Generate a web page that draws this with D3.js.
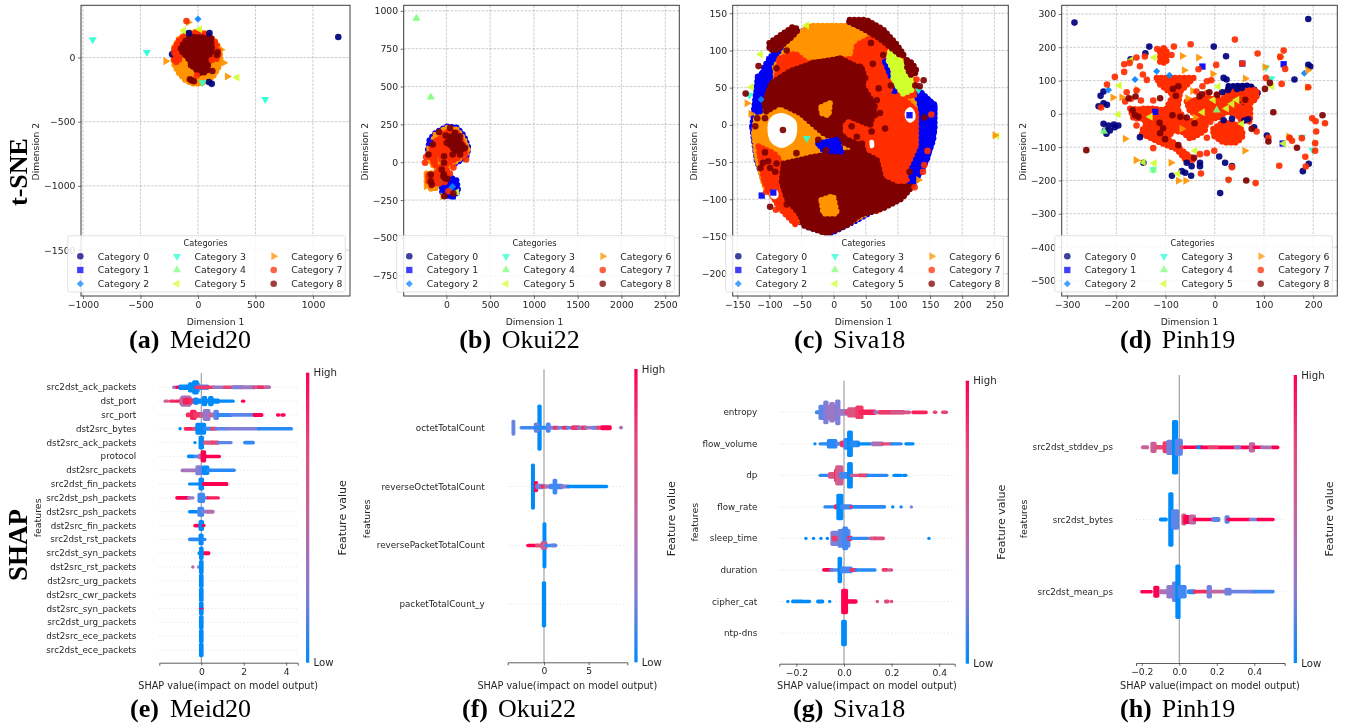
<!DOCTYPE html>
<html><head><meta charset="utf-8">
<script src="https://cdn.jsdelivr.net/npm/d3@7"></script>
<style>
html,body{margin:0;padding:0;background:#fff;overflow:hidden}
svg{display:block;filter:blur(0.5px)}
text{font-family:"DejaVu Sans",sans-serif;fill:#262626}
.cap,.side{font-family:"Liberation Serif",serif;fill:#000}
</style></head><body><svg id="c" width="1348" height="727"></svg>
<script>
// ---------- colours and labels
const categoryColors=["#00007f","#0000f5","#0a84ff","#2bffd1","#7dff7a","#d1ff2b","#ff9400","#ff2d00","#7f0000"];
const categoryNames=["Category 0","Category 1","Category 2","Category 3","Category 4","Category 5","Category 6","Category 7","Category 8"];
const xLabel="Dimension 1", yLabel="Dimension 2", legendTitle="Categories";
const shapXLabel="SHAP value(impact on model output)";

// ---------- t-SNE: filled regions [category, outline] and single points [category, x, y]
const meidRegions=[
 [6,[[-216,10],[-205,80],[-165,145],[-100,185],[-10,202],[80,185],[145,130],[185,70],[196,0],[175,-85],[125,-155],[50,-195],[-30,-205],[-105,-180],[-170,-115],[-208,-50]]],
 [7,[[-205,70],[-165,135],[-100,178],[-10,192],[80,178],[145,125],[178,70],[178,5],[150,-20],[115,5],[60,20],[-80,50],[-145,30],[-190,-30],[-208,-25]]],
 [8,[[-150,70],[-120,120],[-65,162],[20,158],[115,152],[122,60],[100,10],[80,-110],[20,-122],[-35,-80],[-90,0],[-130,35]]]
];
const meidPoints=[[0,1220,160],[0,120,-205],[0,-225,25],[0,100,190],[0,95,-190],[0,-80,190],
 [2,0,300],[3,-915,140],[3,-445,40],[3,585,-325],[3,40,-195],
 [5,-125,210],[5,15,220],[5,340,-155],
 [6,-280,-28],[6,-85,275],[6,225,-40],[6,255,-147],[6,200,60],
 [7,-100,285],[7,-165,-15],[7,-190,20],[7,-190,-35],[7,-10,-140],[7,175,50],[7,120,-20],[7,-205,40],
 [8,-70,-170],[8,-55,-178],[8,-35,-185],[8,125,-105],[8,170,40],[8,-60,-60],[8,-130,50],[8,60,-100],[8,165,20]];

const okuiRegions=[
 [1,[[-210,84],[-190,150],[-120,195],[4,235],[118,228],[200,175],[250,95],[235,45],[118,-4],[42,-15],[-72,-26],[-140,29]]],
 [1,[[-60,-126],[4,-90],[115,-120],[135,-195],[75,-225],[-45,-215]]],
 [6,[[-195,100],[-115,185],[4,228],[118,215],[195,155],[250,70],[118,10],[42,-20],[-72,-60],[-150,-20],[-200,30]]],
 [6,[[-225,-75],[-95,-70],[-78,-115],[-125,-170],[-188,-175],[-225,-126]]],
 [7,[[-170,100],[-105,165],[4,200],[118,195],[180,135],[225,62],[118,25],[42,0],[-72,-50],[-130,-14],[-180,35]]],
 [7,[[-205,-85],[-112,-82],[-95,-115],[-140,-145],[-185,-155],[-210,-125]]],
 [7,[[-60,-30],[-30,-20],[10,-60],[5,-100],[-50,-110],[-75,-70]]],
 [8,[[40,170],[110,185],[165,125],[210,85],[130,75],[65,95],[30,125]]]
];
const okuiPoints=[[4,-343,950],[4,-179,430],
 [1,-34,-192],[1,72,-225],[1,99,-126],[1,-187,128],[2,42,-181],[2,-72,-137],[2,70,-160],[5,118,-198],
 [6,-130,176],[6,-42,-225],[6,-232,-159],[6,-72,7],
 [7,-244,-4],[7,-232,35],[7,225,18],[7,80,-35],[7,-84,-141],[7,-141,-9],[7,23,-192],[7,-110,-70],[7,-53,18],[7,-20,-130],[7,-95,-90],[7,40,-75],
 [8,-84,200],[8,-8,176],[8,-156,117],[8,-206,51],[8,99,194],[8,42,227],[8,4,128],[8,61,139],[8,156,172],[8,137,128],[8,99,84],[8,72,51],[8,-27,40],[8,156,51],[8,213,95],[8,-27,-4],[8,-53,-48],[8,-34,-93],[8,11,-110],[8,-179,-82],[8,-179,-126],[8,-168,-148],[8,80,-207],[8,-23,-225],[8,99,132],[8,42,150],[8,175,106],[8,-30,-80],[8,-20,-105]];

const sivaRegions=[
 [1,[[-127,-2],[-120,38],[-108,78],[-87,105],[-58,125],[20,132],[67,125],[98,100],[128,51],[157,25],[155,-20],[140,-56],[122,-83],[93,-100],[36,-128],[-6,-146],[-42,-137],[-82,-110],[-108,-77],[-120,-47]]],
 [6,[[-124,-11],[-119,20],[-108,56],[-82,90],[-63,117],[-37,133],[18,133],[57,117],[83,92],[93,65],[83,38],[124,33],[134,-11],[124,-47],[103,-83],[72,-108],[20,-134],[-37,-138],[-76,-117],[-108,-81],[-120,-43]]],
 [7,[[-84,89],[-60,96],[-42,83],[33,89],[36,107],[67,121],[85,101],[93,60],[83,38],[106,38],[135,13],[130,-29],[117,-70],[93,-94],[67,-117],[51,-83],[51,-43],[20,-20],[10,33],[-32,60],[-84,42],[-99,33],[-89,65]]],
 [7,[[-117,-29],[-94,-38],[-84,-47],[-89,-74],[-63,-92],[-58,-135],[-84,-112],[-108,-77]]],
 [7,[[103,98],[114,78],[126,55],[126,40],[106,38],[95,70]]],
 [1,[[-118,65],[-99,76],[-99,56],[-113,33],[-115,16],[-124,20]]],
 [1,[[80,85],[93,87],[100,72],[90,63]]],
 [1,[[134,43],[157,27],[157,-7],[145,-47],[124,-76],[119,-65],[137,-29],[137,16]]],
 [5,[[88,98],[103,87],[121,65],[121,47],[108,42],[93,60],[93,74],[85,87]]],
 [8,[[-108,29],[-97,56],[-68,72],[-32,83],[10,89],[46,74],[46,51],[64,25],[57,0],[20,13],[10,2],[10,-16],[46,-29],[46,-36],[-16,-11],[-52,16],[-84,29],[-105,18]]],
 [8,[[-78,-52],[-32,-43],[5,-38],[41,-36],[67,-47],[75,-74],[98,-83],[122,-83],[106,-99],[77,-112],[41,-121],[20,-135],[-11,-146],[-47,-135],[-52,-121],[-73,-99],[-81,-76]]],
 [8,[[25,141],[51,141],[77,128],[98,108],[109,94],[103,94],[72,116],[41,132],[23,139]]],
 [8,[[-100,110],[-63,132],[-55,128],[-68,116],[-89,101],[-100,101]]],
 [8,[[114,87],[122,83],[130,71],[119,67],[114,78]]],
 [6,[[-19,-101],[-1,-96],[5,-119],[-16,-119]]],
 [6,[[-19,24],[-6,29],[-8,13],[-19,16]]],
 [1,[[-24,-25],[5,-20],[12,-36],[-16,-34]]]
];
const sivaHoles=[
 [[-103,-7],[-99,9],[-81,16],[-60,7],[-57,-9],[-63,-23],[-81,-31],[-98,-23]],
 [[119,24],[126,18],[127,8],[119,3],[112,8],[111,18]],
 [[-98,-88],[-88,-88],[-86,-96],[-92,-100],[-99,-96]],
 [[56,-21],[62,-21],[63,-29],[57,-31]]
];
const sivaPoints=[[1,-100,88],[1,-112,-95],[1,-94,-91],[1,118,13],[2,-113,34],
 [3,-131,40],[3,-42,-18],[3,132,47],
 [5,-114,95],[5,-128,51],[5,254,-15],[5,-42,134],
 [6,-135,29],[6,-129,15],[6,251,-14],[6,132,-74],
 [7,129,61],[7,152,14],[7,146,-35],[7,-105,-90],[7,-90,-114],[7,139,-63],[7,141,-54],[7,126,-84],
 [8,-137,42],[8,-117,79],[8,-98,107],[8,-99,-110],[8,58,110],[8,61,82],[8,77,94],[8,70,49],[8,89,53],[8,127,53],[8,141,10],[8,118,-63],[8,-107,-37],[8,-114,-58],[8,-110,-51],[8,-102,-49],[8,-99,-58],[8,-89,-52],[8,-91,-63],[8,-71,-52],[8,-58,-38],[8,-58,-52],[8,-73,-60],[8,-55,-114],[8,-73,-107],[8,-79,-7],[8,-24,-20],[8,-12,-34],[8,18,11],[8,28,-2],[8,15,-16],[8,36,-16],[8,44,-25],[8,59,-9],[8,80,-5],[8,72,16],[8,-32,83],[8,-21,84],[8,-8,82],[8,-107,9],[8,-119,9],[8,-122,-2],[8,-104,24],[8,-89,76],[8,-73,100],[8,140,60],[8,134,52],[8,-68,63],[8,-60,72],[8,-47,72],[8,-84,49],[8,-94,56],[8,41,78],[8,49,63],[8,67,33],[8,64,13],[8,10,89],[8,20,83]];

const pinhRegions=[
 [0,[[28,83],[72,85],[88,62],[60,25],[28,55]]],
 [7,[[-118,108],[-43,108],[-70,67],[-77,6],[-98,16],[-84,57],[-111,88]]],
 [7,[[-118,11],[-77,16],[-57,-24],[-16,-14],[-20,-50],[-37,-65],[-50,-75],[-64,-55],[-84,-50],[-98,-75],[-84,-86],[-70,-106],[-43,-137],[-57,-142],[-77,-106],[-111,-86],[-148,-60],[-145,-40],[-118,-24]]],
 [7,[[-3,-45],[18,-24],[51,-35],[58,-65],[45,-86],[18,-86],[-3,-65]]],
 [7,[[24,67],[85,72],[85,47],[68,27],[51,47],[24,47]]],
 [7,[[45,21],[72,16],[72,-24],[48,-14]]],
 [7,[[-172,16],[-138,11],[-145,-14],[-165,-14]]],
 [7,[[-145,16],[-118,16],[-118,-20],[-145,-23]]],
 [7,[[-57,37],[-9,47],[24,37],[45,37],[58,-4],[24,6],[4,-14],[-16,-9],[-50,6]]],
 [7,[[-111,190],[-98,195],[-98,154],[-111,154]]]
];
const pinhPoints=[[0,-285,274],[0,190,285],[0,-133,202],[0,-2,202],[0,23,173],[0,9,-128],[0,11,-238],[0,-87,-186],[0,-48,-186],[0,191,-150],[0,35,-157],[0,18,108],[0,24,103],[0,190,147],[0,194,142],[0,-226,32],[0,-226,-30],[0,-216,-35],[0,-205,-32],[0,-196,-35],[0,-213,-50],[0,-220,-60],[0,-223,-50],[0,-203,-40],[0,-236,23],[0,-219,27],[0,-226,67],[0,-152,-70],[0,-145,-147],[0,-60,-177],[0,-57,-147],[0,-47,-157],[0,-30,-147],[0,-30,-157],[0,-67,-172],[0,27,72],[0,45,75],[0,18,-19],[0,106,-65],[0,68,-16],[0,-171,164],[0,-141,182],[0,162,103],[0,179,-172],[0,21,-147],[0,-232,54],[0,30,80],[0,55,78],[0,15,65],[0,35,-15],[0,60,-20],[0,80,-40],
 [1,-25,142],[1,56,151],[1,140,149],[1,138,-89],[1,-121,6],
 [2,-162,103],[2,-118,128],[2,-92,116],[2,-216,72],[2,182,122],
 [3,104,139],[3,115,106],[3,-125,-167],[3,177,-70],[3,28,-198],[3,199,-109],
 [4,-125,-169],[4,4,11],[4,-225,-53],
 [5,-123,169],[5,-194,85],[5,-196,-2],[5,7,82],[5,-145,-145],[5,-123,-148],[5,-75,-180],[5,-170,162],[5,-40,-111],[5,55,-30],[5,-3,42],[5,45,42],[5,24,16],[5,140,-89],[5,-131,-9],[5,116,82],[5,35,30],[5,-25,5],
 [6,-207,49],[6,-182,-75],[6,-160,-139],[6,-89,-147],[6,-59,-201],[6,-74,-201],[6,61,-111],[6,62,106],[6,102,141],[6,150,-68],[6,-62,131],[6,-4,120],[6,-45,69],[6,-55,47],[6,-158,72],[6,133,171],[6,188,80],[6,189,131],[6,-189,50],[6,-33,169],[6,-66,174],[6,-67,-45],[6,-40,-11],
 [7,-117,195],[7,-104,197],[7,-103,164],[7,-83,202],[7,-49,209],[7,41,223],[7,87,181],[7,3,147],[7,-88,177],[7,-142,172],[7,-159,169],[7,-173,153],[7,-184,149],[7,-184,126],[7,-203,111],[7,-219,88],[7,-231,19],[7,-152,143],[7,-146,118],[7,-138,102],[7,-179,65],[7,-159,70],[7,-182,37],[7,-159,-35],[7,-125,-103],[7,-28,-179],[7,-16,-72],[7,-16,-118],[7,-30,-121],[7,-1,-111],[7,35,-160],[7,28,-198],[7,131,-156],[7,83,-208],[7,185,-158],[7,184,-129],[7,204,-111],[7,204,-88],[7,206,-53],[7,205,-22],[7,198,-13],[7,224,-28],[7,140,190],[7,133,171],[7,143,135],[7,136,90],[7,190,80],[7,109,-72],[7,152,-72],[7,157,-81],[7,177,-73],[7,56,151],[7,-33,134],[7,-16,98],[7,-7,101],[7,-25,83],[7,-16,62],[7,4,57],[7,-37,67],[7,-9,27],[7,18,47],[7,-9,-24],[7,11,-45],[7,85,-53],[7,104,108],[7,-170,45],[7,-150,40],[7,-125,40],[7,-40,40],[7,-30,25],
 [8,-261,-109],[8,219,-4],[8,167,-102],[8,64,-200],[8,119,5],[8,75,-45],[8,62,42],[8,112,93],[8,102,75],[8,5,57],[8,-11,65],[8,-26,59],[8,-31,52],[8,-74,83],[8,-85,75],[8,-79,54],[8,-111,47],[8,-161,52],[8,-175,47],[8,-167,11],[8,-162,-4],[8,-155,-9],[8,-86,-4],[8,-70,-9],[8,-57,-11],[8,-112,-27],[8,-105,-43],[8,-111,-58],[8,-101,-76],[8,-74,-94],[8,-42,-132],[8,-41,-28],[8,109,-83]];

// ---------- t-SNE tick labels
const ticksMeidX=[-1000,-500,0,500,1000], ticksMeidY=[-1500,-1000,-500,0];
const ticksOkuiX=[0,500,1000,1500,2000,2500], ticksOkuiY=[-750,-500,-250,0,250,500,750,1000];
const ticksSivaX=[-150,-100,-50,0,50,100,150,200,250], ticksSivaY=[-200,-150,-100,-50,0,50,100,150];
const ticksPinhX=[-300,-200,-100,0,100,200], ticksPinhY=[-500,-400,-300,-200,-100,0,100,200,300];

// ---------- SHAP: per feature, runs [from, to, featureValue(0 low..1 high), stacked points]
const meidFeatures=["src2dst_ack_packets","dst_port","src_port","dst2src_bytes","dst2src_ack_packets","protocol","dst2src_packets","src2dst_fin_packets","src2dst_psh_packets","dst2src_psh_packets","dst2src_fin_packets","src2dst_rst_packets","src2dst_syn_packets","dst2src_rst_packets","dst2src_urg_packets","dst2src_cwr_packets","dst2src_syn_packets","src2dst_urg_packets","dst2src_ece_packets","src2dst_ece_packets"];
const meidRuns=[
 [[-1.3,-1.25,.35,1],[-1.15,-1.05,1,1],[-1,-.55,0,1.6],[-.55,-.15,0,3],[-.35,-.2,0,4.2],[-.15,.3,.1,1.6],[-.25,.6,.85,1],[.6,1.1,.3,1],[1.1,1.9,.8,1],[1.5,1.9,.2,1.2],[1.9,2.5,.3,1.2],[2.5,2.7,.85,1],[2.6,3.2,.5,1],[2.7,2.9,.9,1],[3.05,3.2,.45,1]],
 [[-1.7,-1.6,.6,1],[-1.45,-1.3,.9,1],[-1.2,-.9,.95,1],[-.95,-.5,.6,2.5],[-.9,-.55,.4,3.3],[-.8,-.6,.95,2],[-.5,-.25,.9,1.5],[-.3,0,.1,1.5],[-.3,-.2,0,2.2],[-.1,.5,0,1.3],[.1,.2,0,3],[.4,.5,0,3],[.5,1.5,0,1],[.5,.8,0,1.5],[1.95,2,1,1]],
 [[-.65,-.45,.9,1.4],[-.45,-.3,.95,3],[-.3,0,.85,1.7],[0,.15,.6,1.6],[.15,.35,.25,3.5],[.35,.65,.5,1.5],[.65,.75,.1,3],[.75,1.4,.03,1.2],[1.4,2.5,.1,1.1],[2.5,2.85,1,1.2],[3.6,3.65,1,1],[3.8,3.9,1,1]],
 [[-1,-1,0,1],[-.75,-.35,.95,1.1],[-.35,-.2,.7,1.2],[-.2,.15,0,3.5],[.15,.5,.03,1.2],[.5,.7,.8,1.2],[.7,1.2,.1,1],[1.2,2.7,.2,1],[2.7,4.25,.02,1]],
 [[-.3,-.3,0,1],[-.05,.05,0,4],[.15,.5,.65,1.3],[.5,.8,.8,1.2],[.8,1.4,.1,1],[2.05,2.45,.03,1.1]],
 [[-.6,-.35,0,1.1],[-.3,-.1,.05,1],[-.1,.1,.4,1.6],[.05,.15,1,3.6],[.15,.85,1,1]],
 [[-.9,-.3,.35,1.1],[-.2,0,.2,3],[0,.2,.15,1.5],[.1,.3,0,2.8],[.3,1.55,.02,1]],
 [[-.55,-.1,0,.9],[-.05,.05,0,3.8],[.1,1.2,1,1.2]],
 [[-1.15,-.6,1,1.1],[-.6,-.4,.3,1],[-.1,.1,.05,3],[.1,.3,.05,1],[.3,.8,.95,1]],
 [[-.55,-.2,0,1],[-.1,.05,.05,3],[.05,.3,.2,1.1],[.3,.55,.45,1.2]],
 [[-.3,-.05,1,1.1],[-.05,.05,0,3.2],[.1,.12,1,1]],
 [[-.55,-.15,.02,1.1],[-.05,.03,0,3.5],[.03,.17,.02,1]],
 [[-.1,.05,0,1.1],[.1,.35,1,1.2],[-.03,.03,0,4]],
 [[-.4,-.4,.5,1],[-.13,-.13,.2,1],[-.03,.03,0,4.2]],
 [[-.03,.03,0,4.2]],[[-.03,.03,0,4.2]],[[-.03,.03,0,4.2],[-.03,.03,1,.5]],[[-.03,.03,0,4.2]],[[-.03,.03,0,4.2]],[[-.03,.03,0,4.2]]
];
const okuiFeatures=["octetTotalCount","reverseOctetTotalCount","reversePacketTotalCount","packetTotalCount_y"];
const okuiRuns=[
 [[-3.45,-3.4,.12,4.7],[-2.55,-1,.05,1],[-.55,-.45,0,13.6],[-.95,-.7,.15,3],[-1,.5,.02,1.2],[.4,.55,.05,3],[.5,1.2,.15,1.2],[1.2,1.6,.9,1.2],[1.6,2.2,.15,1],[2.2,2.6,.9,1.2],[2.6,3.2,.1,1],[3.2,3.9,.85,1.4],[3.9,4.3,.2,1.2],[4.3,4.7,.85,1.3],[4.7,5.8,.3,1],[5.5,6,.15,1.2],[6,6.5,.8,1.2],[6.5,7.4,1,1.5],[8.6,8.65,.4,1.1]],
 [[-1.27,-1.2,0,13.6],[-.95,-.85,1,3.3],[-.8,-.2,.15,1.6],[-.2,.2,.9,1.2],[.2,.7,.4,1.2],[.7,2,.05,1.6],[1.15,1.3,.05,4.6],[2,2.7,.25,1.2],[2.7,7,0,1]],
 [[.02,.08,0,13.6],[-1.8,-.8,1,1],[-.8,-.1,.7,1.2],[-.2,.2,.6,2.5],[.2,1.3,.05,1],[.9,1.3,.1,1.1]],
 [[-.05,.05,0,13.6]]
];
const sivaFeatures=["entropy","flow_volume","dp","flow_rate","sleep_time","duration","cipher_cat","ntp-dns"];
const sivaRuns=[
 [[-.115,-.095,.05,1.2],[-.1,-.07,.1,4.5],[-.08,-.072,.2,7],[-.065,-.03,.35,4.5],[-.055,-.045,.3,6],[-.03,-.022,.2,7.6],[-.02,.01,.3,2],[.01,.04,.8,1.3],[.02,.06,.7,3],[.055,.075,.85,4],[.07,.13,.95,1.6],[.13,.2,.35,1.1],[.15,.25,.85,1.3],[.2,.275,.65,1.1],[.29,.345,.95,1.1],[.38,.385,.8,1],[.415,.43,.8,1]],
 [[-.122,-.122,0,1],[-.1,-.06,.02,1],[-.065,-.035,.02,2.8],[-.03,0,.1,1.2],[-.01,.01,.9,2],[.005,.03,.03,3.5],[.02,.03,0,7.8],[.03,.06,.02,2],[.06,.11,0,1],[.12,.16,.4,1.4],[.16,.2,.75,1],[.2,.24,.02,1],[.26,.29,0,1]],
 [[-.1,-.06,.02,1],[-.06,-.03,.7,2],[-.035,-.01,.9,4],[-.03,-.01,.6,6],[-.012,.03,.05,2],[.02,.03,0,7.8],[.03,.07,.6,1],[.065,.1,.8,1.1],[.1,.18,.02,1],[.21,.24,0,1],[.25,.26,0,1]],
 [[-.08,-.03,.02,1],[-.035,-.03,.95,1.5],[-.025,-.01,0,7.8],[-.01,.03,.05,1.5],[.03,.17,.02,1.1],[.03,.03,.9,1.1],[.205,.205,0,1],[.24,.24,0,1],[.283,.283,.25,1]],
 [[-.16,-.16,0,1],[-.128,-.128,0,1],[-.097,-.097,0,1],[-.07,-.07,0,1],[-.05,-.03,.2,4.5],[-.045,-.03,.85,1.6],[-.02,.02,.1,5.5],[0,.01,.05,7],[.02,.03,.9,1.5],[.03,.1,.03,1],[.11,.13,.6,1.1],[.13,.165,.75,1.1],[.357,.357,0,1]],
 [[-.085,-.05,1,1.1],[-.055,-.02,.1,1],[-.02,-.015,0,7.8],[-.01,.03,.05,2],[.03,.05,.9,1.2],[.05,.13,.02,1],[.165,.18,.85,1.1],[.19,.2,.65,1]],
 [[-.236,-.236,0,1],[-.215,-.175,0,1.1],[-.17,-.145,0,1],[-.11,-.09,0,1.2],[-.06,-.06,0,1],[-.005,.01,1,7.5],[.01,.05,1,1.3],[.14,.14,.7,1],[.175,.185,.75,1.2],[.2,.2,.8,1]],
 [[-.005,.005,0,7.8]]
];
const pinhFeatures=["src2dst_stddev_ps","src2dst_bytes","src2dst_mean_ps"];
const pinhRuns=[
 [[-.195,-.17,.55,1.2],[-.145,-.13,.6,3.3],[-.12,-.09,.75,1.3],[-.08,-.06,.85,3.5],[-.06,-.035,.15,4.5],[-.03,-.015,0,16],[-.015,.01,.1,5],[.01,.03,.8,1.1],[.03,.1,1,1],[.1,.12,0,1.2],[.12,.38,1,1.1],[.16,.2,.8,1],[.3,.32,.2,1.1],[.38,.395,.5,3],[.4,.44,1,1],[.44,.5,.4,1.1],[.5,.525,1,1.1]],
 [[-.1,-.07,0,1.2],[-.05,-.04,0,16],[-.035,-.01,.1,6],[.02,.03,.65,3.5],[.03,.06,1,2.6],[.06,.08,.5,3],[.08,.2,1,1],[.18,.21,.1,1.4],[.25,.26,.1,2.5],[.26,.38,1,1],[.38,.42,.2,1.1],[.42,.5,1,1]],
 [[-.2,-.15,1,1],[-.13,-.115,1,3.5],[-.1,-.07,.4,1.5],[-.06,-.03,.25,4],[-.03,-.015,.15,6],[-.012,-.002,0,16],[0,.03,.05,4],[.05,.08,.02,1.5],[.08,.15,.9,1.1],[.155,.165,.15,4],[.17,.25,.5,1.1],[.25,.27,.15,2.3],[.27,.4,.15,1.1],[.4,.5,.05,1.1]]
];
const ticksShapE=[0,2,4], ticksShapF=[0,5], ticksShapG=[-.2,0,.2,.4], ticksShapH=[-.2,0,.2,.4];

// ---------- captions
const captions=[["(a)","Meid20",129,170,348],["(b)","Okui22",459.3,501.7,348],["(c)","Siva18",794,833,348],["(d)","Pinh19",1120,1161.7,348],
 ["(e)","Meid20",130,170,717],["(f)","Okui22",462,498,717],["(g)","Siva18",793,833,717],["(h)","Pinh19",1120,1161.7,717]];

// ---------- drawing
const svg=d3.select("#c");
const sym=[d3.symbolCircle,d3.symbolSquare,d3.symbolDiamond2||d3.symbolDiamond,d3.symbolTriangle,d3.symbolTriangle,d3.symbolTriangle,d3.symbolTriangle,d3.symbolCircle,d3.symbolCircle];
const rot=[0,0,0,180,0,-90,90,0,0];
const size=[34,40,32,28,28,28,28,34,34];
const marker=d3.symbol();
function placeMarker(sel,c,x,y,op){
 sel.append("path").attr("d",marker.type(sym[c]).size(size[c])())
  .attr("transform",`translate(${x},${y}) rotate(${rot[c]})`).attr("fill",categoryColors[c]).attr("fill-opacity",op);
}
const intFmt=d3.format("d");
function tsne(o){
 const g=svg.append("g");
 const x=d3.scaleLinear().domain(o.xd).range([o.l,o.r]);
 const y=d3.scaleLinear().domain(o.yd).range([o.b,o.t]);
 const ax=g.append("g").attr("transform",`translate(0,${o.b})`).call(d3.axisBottom(x).tickValues(o.xt).tickSize(3).tickPadding(2.5).tickFormat(intFmt));
 const ay=g.append("g").attr("transform",`translate(${o.l},0)`).call(d3.axisLeft(y).tickValues(o.yt).tickSize(3).tickPadding(2.5).tickFormat(intFmt));
 [ax,ay].forEach(a=>{a.select(".domain").remove();a.selectAll("text").style("font-size","9.3px").style("font-family",'"DejaVu Sans"').attr("fill","#262626");a.selectAll("line").attr("stroke","#333").attr("stroke-width",.7);});
 const gl={stroke:"#b5b5b5","stroke-width":.7,"stroke-dasharray":"2.6,1.3"};
 const grid=g.append("g");
 o.xt.forEach(v=>{const l=grid.append("line").attr("x1",x(v)).attr("x2",x(v)).attr("y1",o.t).attr("y2",o.b);for(const k in gl)l.attr(k,gl[k]);});
 o.yt.forEach(v=>{const l=grid.append("line").attr("y1",y(v)).attr("y2",y(v)).attr("x1",o.l).attr("x2",o.r);for(const k in gl)l.attr(k,gl[k]);});
 const line=d3.line().x(d=>x(d[0])).y(d=>y(d[1])).curve(d3.curveLinearClosed);
 const round=d3.line().x(d=>x(d[0])).y(d=>y(d[1])).curve(d3.curveCardinalClosed);
 // a region is a dense pile of markers, so its edge is beaded rather than straight
 o.regions.forEach(([c,pts])=>g.append("path").attr("d",line(pts)).attr("fill",categoryColors[c]).attr("stroke",categoryColors[c]).attr("stroke-width",6.2).attr("stroke-linecap","round").attr("stroke-dasharray","0,4.6"));
 (o.holes||[]).forEach(pts=>g.append("path").attr("d",round(pts)).attr("fill","#fff"));
 const pg=g.append("g");
 o.points.slice().sort((a,b)=>a[0]-b[0]).forEach(([c,a,b])=>placeMarker(pg,c,x(a),y(b),.92));
 g.append("rect").attr("x",o.l).attr("y",o.t).attr("width",o.r-o.l).attr("height",o.b-o.t).attr("fill","none").attr("stroke","#3c3c3c").attr("stroke-width",1);
 g.append("text").attr("x",(o.l+o.r)/2+o.dx).attr("y",o.b+28.5).attr("text-anchor","middle").style("font-size","9.2px").text(xLabel);
 g.append("text").attr("transform",`translate(${o.yl},${(o.t+o.b)/2+1}) rotate(-90)`).attr("text-anchor","middle").attr("dy",".35em").style("font-size","9.2px").text(yLabel);
 // legend
 const L=o.lg, lw=277.6, top=235.7, lh=56.3;
 const lgg=g.append("g");
 lgg.append("rect").attr("x",L).attr("y",top).attr("width",lw).attr("height",lh).attr("rx",2).attr("fill","#fff").attr("fill-opacity",.85).attr("stroke","#d6d6d6").attr("stroke-width",.7);
 lgg.append("text").attr("x",L+lw/2-1).attr("y",246).attr("text-anchor","middle").style("font-size","8.2px").text(legendTitle);
 const colX=[12.6,109.3,206], rowY=[256.3,270,283.7];
 categoryNames.forEach((n,i)=>{
  const cx=L+colX[Math.floor(i/3)], cy=rowY[i%3];
  placeMarker(lgg,i,cx,cy,.75);
  lgg.append("text").attr("x",cx+17.5).attr("y",cy).attr("dy",".35em").style("font-size","9.3px").text(n);
 });
}
tsne({l:81,r:350,t:5.3,b:296,xd:[-1017,1322],yd:[-1858,407],xt:ticksMeidX,yt:ticksMeidY,regions:meidRegions,points:meidPoints,lg:67.7,yl:35.7,dx:0});
tsne({l:403.7,r:679.3,t:5.3,b:296,xd:[-488,2661],yd:[-884,1037],xt:ticksOkuiX,yt:ticksOkuiY,regions:okuiRegions,points:okuiPoints,lg:396.7,yl:364.3,dx:-7});
tsne({l:732.7,r:1008.3,t:5.3,b:296,xd:[-157.2,271.8],yd:[-230,160.7],xt:ticksSivaX,yt:ticksSivaY,regions:sivaRegions,holes:sivaHoles,points:sivaPoints,lg:725.7,yl:693.3,dx:-7});
tsne({l:1061.7,r:1337.3,t:5.3,b:296,xd:[-311,249],yd:[-547,326],xt:ticksPinhX,yt:ticksPinhY,regions:pinhRegions,points:pinhPoints,lg:1054.7,yl:1022.3,dx:-10});

const defs=svg.append("defs");
const shapColor=d3.scaleLinear().domain([0,1]).range(["#008bfb","#ff0051"]).interpolate(d3.interpolateLab);
const gr=defs.append("linearGradient").attr("id","cb").attr("x1",0).attr("x2",0).attr("y1",1).attr("y2",0);
[0,.25,.5,.75,1].forEach(t=>gr.append("stop").attr("offset",t).attr("stop-color",shapColor(t)));
function shap(o){
 const g=svg.append("g");
 const x=d3.scaleLinear().domain([(o.al-o.zero)/o.unit,(o.ar-o.zero)/o.unit]).range([o.al,o.ar]);
 const y=d3.scalePoint().domain(o.features).range([o.r0,o.r1]);
 o.features.forEach(f=>g.append("line").attr("x1",o.al).attr("x2",o.ar).attr("y1",y(f)).attr("y2",y(f)).attr("stroke","#d4d4d4").attr("stroke-width",.7).attr("stroke-dasharray","1,2.5"));
 g.append("line").attr("x1",x(0)).attr("x2",x(0)).attr("y1",o.top).attr("y2",o.ay).attr("stroke","#999").attr("stroke-width",1.1);
 const D=3.4;
 o.features.forEach((f,i)=>o.runs[i].forEach(([a,b,v,n])=>{
  const h=Math.max(n*D,1.6);
  g.append("rect").attr("x",x(a)-D/2).attr("width",x(b)-x(a)+D).attr("y",y(f)-h/2).attr("height",h).attr("rx",D/2).attr("fill",shapColor(v));
 }));
 const ax=g.append("g").attr("transform",`translate(0,${o.ay})`).call(d3.axisBottom(x).tickValues(o.xt).tickSize(3).tickPadding(2.5).tickFormat(o.fmt));
 ax.select(".domain").attr("stroke","#333").attr("stroke-width",.8);
 ax.selectAll("line").attr("stroke","#333").attr("stroke-width",.7);
 ax.selectAll("text").style("font-size","9.2px").style("font-family",'"DejaVu Sans"').attr("fill","#262626");
 o.features.forEach(f=>g.append("text").attr("x",o.lr).attr("y",y(f)).attr("dy",".35em").attr("text-anchor","end").style("font-size","8.75px").text(f));
 g.append("text").attr("x",o.xc).attr("y",686).attr("dy",".35em").attr("text-anchor","middle").style("font-size","9.7px").text(shapXLabel);
 const my=(o.top+o.ay)/2+o.my;
 g.append("text").attr("transform",`translate(${o.fx},${my}) rotate(-90)`).attr("dy",".35em").attr("text-anchor","middle").style("font-size","9.4px").text("features");
 g.append("rect").attr("x",o.cb).attr("y",o.ct).attr("width",3.3).attr("height",o.ay-o.ct).attr("fill","url(#cb)");
 g.append("text").attr("x",o.cb+7.5).attr("y",o.ct).attr("dy",".35em").style("font-size","10.2px").text("High");
 g.append("text").attr("x",o.cb+7.5).attr("y",o.ay).attr("dy",".35em").style("font-size","10.2px").text("Low");
 g.append("text").attr("transform",`translate(${o.vx},${my}) rotate(-90)`).attr("dy",".35em").attr("text-anchor","middle").style("font-size","11px").text("Feature value");
}
const f0=d3.format("d"), f1=d3.format(".1f");
shap({features:meidFeatures,runs:meidRuns,al:159.3,ar:297.7,zero:201.3,unit:21.2,ay:662.7,top:373,r0:387.3,r1:650,xt:ticksShapE,fmt:f0,lr:136.3,xc:228.2,fx:37.7,cb:306,ct:372.7,vx:342,my:0});
shap({features:okuiFeatures,runs:okuiRuns,al:507.7,ar:627.3,zero:544,unit:8.93,ay:662.3,top:369.3,r0:427.7,r1:604.3,xt:ticksShapF,fmt:f0,lr:484.7,xc:567.3,fx:366.7,cb:634.3,ct:369,vx:670.7,my:3});
shap({features:sivaFeatures,runs:sivaRuns,al:779.3,ar:954.7,zero:844,unit:238,ay:663.7,top:380.7,r0:412.3,r1:633,xt:ticksShapG,fmt:f1,lr:757.3,xc:867,fx:695,cb:965.7,ct:380.7,vx:1000.7,my:0});
shap({features:pinhFeatures,runs:pinhRuns,al:1136,ar:1284.7,zero:1179.3,unit:187.5,ay:663,top:375,r0:447.3,r1:591.7,xt:ticksShapH,fmt:f1,lr:1113,xc:1210,fx:1024,cb:1293.7,ct:375,vx:1329.3,my:0});

captions.forEach(([a,b,xa,xb,yb])=>{
 svg.append("text").attr("class","cap").attr("x",xa).attr("y",yb).style("font-size","26px").style("font-weight","bold").text(a);
 svg.append("text").attr("class","cap").attr("x",xb).attr("y",yb).style("font-size","26px").text(b);
});
svg.append("text").attr("class","side").attr("transform","translate(26.5,206) rotate(-90)").style("font-size","26px").style("font-weight","bold").text("t-SNE");
svg.append("text").attr("class","side").attr("transform","translate(26.5,581) rotate(-90)").style("font-size","27px").style("font-weight","bold").text("SHAP");
</script></body></html>
